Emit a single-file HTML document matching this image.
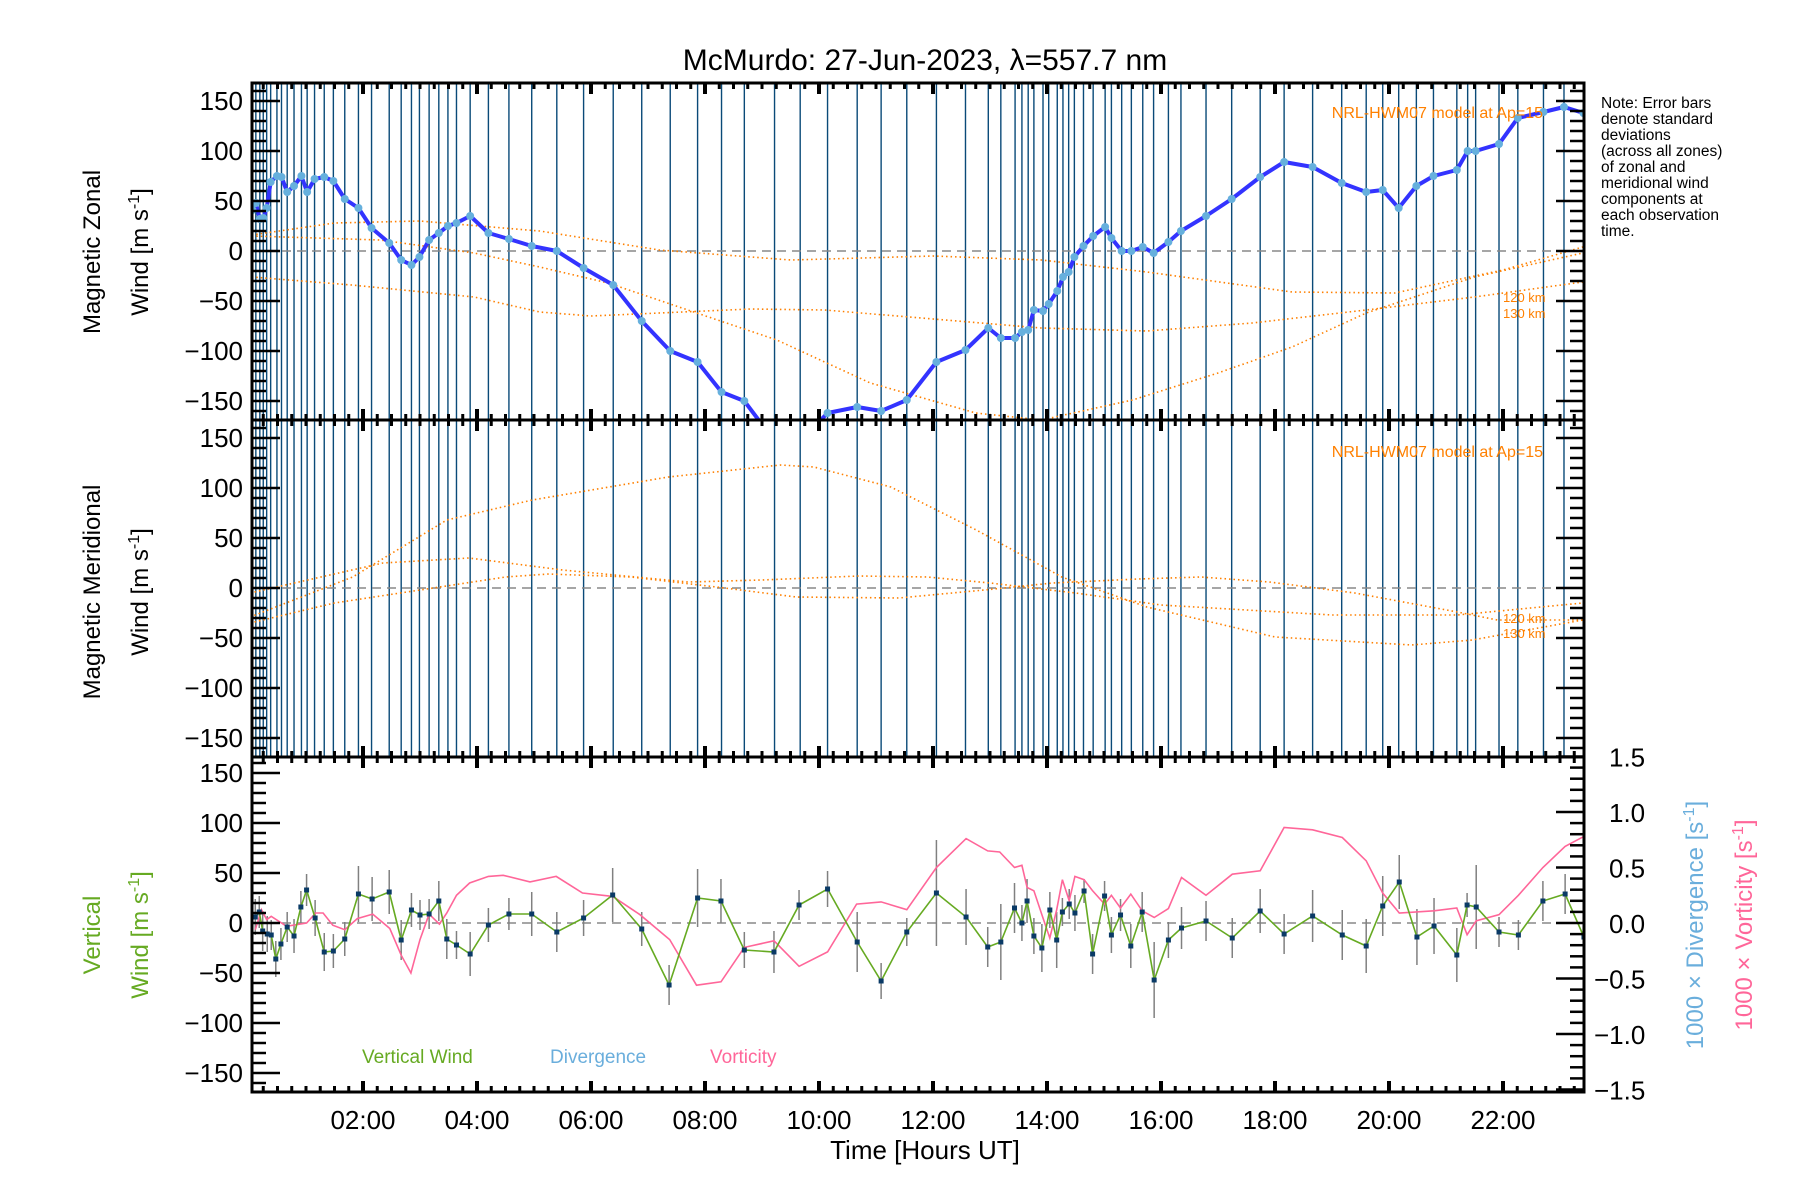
<!DOCTYPE html>
<html><head><meta charset="utf-8"><style>
html,body{margin:0;padding:0;background:#fff;}
svg{display:block;font-family:"Liberation Sans",sans-serif;}
</style></head><body>
<svg id="chart" width="1800" height="1200" viewBox="0 0 1800 1200" xmlns="http://www.w3.org/2000/svg">
<defs>
<clipPath id="clipTop"><rect x="252" y="83" width="1332" height="337"/></clipPath>
<clipPath id="clipMid"><rect x="252" y="420" width="1332" height="337"/></clipPath>
<clipPath id="clipBot"><rect x="252" y="757" width="1332" height="335"/></clipPath>
</defs>
<text x="925" y="70" font-size="30" text-anchor="middle" fill="#000">McMurdo: 27-Jun-2023, λ=557.7 nm</text>
<g id="layer"></g>
<text transform="translate(100,252) rotate(-90)" font-size="24" text-anchor="middle">Magnetic Zonal</text>
<text transform="translate(148,252) rotate(-90)" font-size="24" text-anchor="middle">Wind [m s<tspan dy="-9" font-size="16">-1</tspan><tspan dy="9">]</tspan></text>
<text transform="translate(100,592) rotate(-90)" font-size="24" text-anchor="middle">Magnetic Meridional</text>
<text transform="translate(148,592) rotate(-90)" font-size="24" text-anchor="middle">Wind [m s<tspan dy="-9" font-size="16">-1</tspan><tspan dy="9">]</tspan></text>
<text transform="translate(100,935) rotate(-90)" font-size="24" text-anchor="middle" fill="#66aa22">Vertical</text>
<text transform="translate(148,935) rotate(-90)" font-size="24" text-anchor="middle" fill="#66aa22">Wind [m s<tspan dy="-9" font-size="16">-1</tspan><tspan dy="9">]</tspan></text>
<text transform="translate(1703,925) rotate(-90)" font-size="24" text-anchor="middle" fill="#6aaedc">1000 × Divergence [s<tspan dy="-9" font-size="16">-1</tspan><tspan dy="9">]</tspan></text>
<text transform="translate(1752,925) rotate(-90)" font-size="24" text-anchor="middle" fill="#ff6699">1000 × Vorticity [s<tspan dy="-9" font-size="16">-1</tspan><tspan dy="9">]</tspan></text>
<text x="925" y="1159" font-size="26" text-anchor="middle">Time [Hours UT]</text>
<g font-size="15.5" fill="#000">
<text x="1601" y="108">Note: Error bars</text><text x="1601" y="124">denote standard</text><text x="1601" y="140">deviations</text><text x="1601" y="156">(across all zones)</text><text x="1601" y="172">of zonal and</text><text x="1601" y="188">meridional wind</text><text x="1601" y="204">components at</text><text x="1601" y="220">each observation</text><text x="1601" y="236">time.</text>
</g>
<text x="1543" y="118" font-size="16" text-anchor="end" fill="#ff8000">NRL-HWM07 model at Ap=15</text>
<text x="1543" y="457" font-size="16" text-anchor="end" fill="#ff8000">NRL-HWM07 model at Ap=15</text>
<text x="1503" y="302" font-size="13" fill="#ff8000">120 km</text>
<text x="1503" y="318" font-size="13" fill="#ff8000">130 km</text>
<text x="1503" y="623" font-size="13" fill="#ff8000">120 km</text>
<text x="1503" y="638" font-size="13" fill="#ff8000">130 km</text>
<text x="362" y="1063" font-size="19" fill="#66aa22">Vertical Wind</text>
<text x="550" y="1063" font-size="19" fill="#6aaedc">Divergence</text>
<text x="710" y="1063" font-size="19" fill="#ff6699">Vorticity</text>
</svg>
<script>
const zonalTimes=[0.06,0.12,0.19,0.25,0.31,0.38,0.49,0.57,0.67,0.79,0.92,1.02,1.15,1.32,1.48,1.68,1.92,2.15,2.46,2.67,2.85,2.99,3.16,3.33,3.49,3.64,3.88,4.20,4.56,4.96,5.40,5.87,6.39,6.89,7.39,7.87,8.29,8.69,9.22,9.67,10.15,10.67,11.09,11.54,12.06,12.57,12.97,13.19,13.44,13.56,13.67,13.77,13.93,14.03,14.18,14.28,14.38,14.48,14.64,14.81,15.02,15.13,15.31,15.48,15.68,15.87,16.13,16.35,16.79,17.24,17.74,18.16,18.66,19.17,19.60,19.89,20.17,20.48,20.78,21.19,21.38,21.52,21.93,22.26,22.71,23.07,23.41];
const zonalVals=[41,48,32,33,43,69,75,74,59,65,75,59,72,74,70,52,43,23,8,-9,-14,-6,11,18,25,28,35,18,12,5,0,-17,-34,-70,-100,-111,-141,-150,-190,-190,-162,-156,-160,-149,-111,-99,-77,-87,-87,-81,-79,-59,-60,-53,-40,-26,-21,-6,5,15,24,13,0,0,4,-2,9,20,35,52,74,89,84,68,59,61,43,65,75,81,100,100,107,133,139,144,138];
const windTimes=[0.11,0.18,0.24,0.32,0.39,0.47,0.56,0.67,0.79,0.91,1.01,1.16,1.32,1.48,1.68,1.92,2.16,2.46,2.67,2.85,3.0,3.16,3.33,3.47,3.64,3.88,4.2,4.56,4.96,5.40,5.87,6.38,6.89,7.37,7.87,8.28,8.69,9.21,9.65,10.15,10.67,11.09,11.54,12.06,12.58,12.96,13.19,13.43,13.56,13.65,13.77,13.91,14.05,14.17,14.27,14.39,14.49,14.65,14.80,15.01,15.13,15.29,15.47,15.67,15.88,16.13,16.36,16.79,17.25,17.74,18.16,18.66,19.18,19.60,19.89,20.18,20.49,20.79,21.19,21.37,21.53,21.93,22.27,22.70,23.09,23.42];
const windVals=[6,11,-8,-11,-12,-36,-21,-4,-13,16,33,5,-29,-28,-16,29,24,31,-17,13,8,9,22,-16,-22,-31,-2,9,9,-9,5,28,-6,-62,25,22,-27,-29,18,34,-19,-58,-9,30,6,-24,-19,15,0,22,-13,-25,13,-17,11,19,10,32,-31,27,-12,8,-23,11,-57,-17,-5,2,-15,12,-11,7,-12,-23,17,41,-14,-3,-32,18,16,-9,-12,22,29,-14];
const windErrs=[18,16,20,18,15,18,16,15,17,16,16,18,19,17,17,28,22,22,20,17,15,15,20,20,14,22,17,16,22,20,18,27,17,20,29,22,18,21,15,18,30,18,14,53,28,20,38,25,18,22,18,24,18,28,14,15,18,12,20,15,18,16,22,20,38,18,21,20,20,22,20,26,25,27,30,27,28,28,27,12,42,15,15,20,20,18];
const vortTimes=[0.11,0.22,0.31,0.39,0.66,1.01,1.17,1.30,1.47,1.68,1.90,2.17,2.47,2.67,2.84,3.0,3.16,3.34,3.47,3.64,3.87,4.2,4.46,4.93,5.39,5.85,6.38,6.86,7.38,7.85,8.28,8.69,9.21,9.65,10.15,10.66,11.09,11.54,12.06,12.58,12.96,13.17,13.43,13.56,13.65,13.77,13.91,14.05,14.17,14.27,14.39,14.49,14.65,14.80,15.01,15.13,15.29,15.47,15.67,15.88,16.13,16.36,16.79,17.25,17.74,18.16,18.66,19.18,19.60,19.89,20.18,20.79,21.19,21.37,21.53,21.93,22.27,22.70,23.09,23.42];
const vortVals=[-0.06,0.12,0.03,0.06,-0.03,0.0,0.09,0.09,-0.02,-0.06,0.04,0.08,-0.05,-0.29,-0.45,-0.15,0.08,-0.01,0.09,0.25,0.36,0.42,0.43,0.37,0.42,0.27,0.24,0.075,-0.15,-0.56,-0.53,-0.22,-0.16,-0.39,-0.26,0.17,0.19,0.12,0.50,0.76,0.65,0.64,0.50,0.52,0.32,0.29,0.075,-0.135,0.12,0.39,0.20,0.42,0.39,0.29,0.17,0.25,0.135,0.26,0.11,0.05,0.13,0.41,0.25,0.44,0.47,0.86,0.84,0.77,0.56,0.27,0.09,0.11,0.135,-0.105,0.02,0.075,0.25,0.50,0.69,0.78];
const zonalModelA=[[0.05,16],[1.5,28],[3,30],[5.1,20],[7.2,1],[9.5,-9],[12,-5],[13.9,-9],[15.75,-21],[18.3,-41],[20.1,-42],[22,-19],[23.4,4]];
const zonalModelB=[[0.05,15],[2.3,11],[3.95,-2],[5.1,-16],[6.3,-32],[7.7,-59],[9.26,-89],[10.9,-132],[12.75,-162],[13.9,-169],[15.5,-149],[17.0,-122],[18.3,-96],[19.6,-62],[21.5,-26],[23.4,-2]];
const zonalModelC=[[0.05,-26],[1.8,-34],[3.95,-46],[5.1,-61],[6.0,-65],[8.8,-58],[10.1,-59],[12.0,-68],[13.9,-77],[15.75,-80],[17.6,-72],[19.6,-59],[21.5,-46],[23.4,-31]];
const meridModelA=[[0.02,-29],[1.82,11],[3.47,68],[4.97,88],[7.36,111],[9.32,123],[9.91,121],[11.26,101],[12.76,58],[14.26,11],[15.75,-19],[18.0,-49],[20.4,-57],[21.46,-52],[23.4,-32]];
const meridModelB=[[0.02,-5],[2.35,25],[3.86,30],[5.5,18],[7.7,6],[9.0,8],[10.7,12],[11.9,11],[13.0,5],[14.5,-5],[16.0,-17],[19.0,-27],[21.2,-27],[23.4,-15]];
const meridModelC=[[0.02,-35],[1.5,-15],[3.0,-2],[4.5,11],[5.25,14],[6.7,11],[8.2,1],[9.6,-9],[11.4,-10],[12.9,-2],[14.1,5],[15.6,9],[16.7,11],[17.9,6],[19.4,-5],[21.2,-24],[21.9,-32],[23.4,-32]];
const yTickVals=[150,100,50,0,-50,-100,-150];
const rTickVals=[1.5,1.0,0.5,0.0,-0.5,-1.0,-1.5];
const xTickHours=[2,4,6,8,10,12,14,16,18,20,22];
const xTickLabels=["02:00","04:00","06:00","08:00","10:00","12:00","14:00","16:00","18:00","20:00","22:00"];

const NS='http://www.w3.org/2000/svg';
const L=252,R=1584;
const panels=[{top:83,bot:420,y0:251,clip:'clipTop',name:'zonal'},{top:420,bot:757,y0:588,clip:'clipMid',name:'meridional'},{top:757,bot:1092,y0:923,clip:'clipBot',name:'vertical'}];
function xs(h){return 249+57*h;}
function ys(p,v){return p.y0-v;}
function yr(v){return 923-111*v;}
const layer=document.getElementById('layer');
function mk(tag,attrs,parent){const e=document.createElementNS(NS,tag);for(const k in attrs)e.setAttribute(k,attrs[k]);(parent||layer).appendChild(e);return e;}
function pathFrom(ts,vs,fy){let d='';for(let i=0;i<ts.length;i++){d+=(i?'L':'M')+xs(ts[i]).toFixed(1)+' '+fy(vs[i]).toFixed(1);}return d;}
function modelPath(pts,p){let d='';pts.forEach((q,i)=>{d+=(i?'L':'M')+xs(q[0]).toFixed(1)+' '+ys(p,q[1]).toFixed(1);});return d;}

[0,1].forEach(pi=>{
  const p=panels[pi];
  const g=mk('g',{'clip-path':'url(#'+p.clip+')'});
  
  
  zonalTimes.forEach(t=>{
    const ln=mk('line',{x1:xs(t),x2:xs(t),y1:p.top,y2:p.bot,stroke:'#0a4a78','stroke-width':1.4},g);
    
    
  });
  const z=mk('line',{x1:L,x2:R,y1:p.y0,y2:p.y0,stroke:'#888','stroke-width':1.5,'stroke-dasharray':'9 6'},g);
  
  
  const models=pi===0?[zonalModelA,zonalModelB,zonalModelC]:[meridModelA,meridModelB,meridModelC];
  models.forEach(m=>{
    const e=mk('path',{d:modelPath(m,p),fill:'none',stroke:'#ff8000','stroke-width':1.6,'stroke-dasharray':'1.5 3','stroke-linejoin':'round'},g);
    
    
  });
  if(pi===0){
    const zl=mk('path',{d:pathFrom(zonalTimes,zonalVals,v=>ys(p,v)),fill:'none',stroke:'#3333ff','stroke-width':4,'stroke-linejoin':'round'},g);
    
    
    zonalTimes.forEach((t,i)=>{
      const c=mk('circle',{cx:xs(t),cy:ys(p,zonalVals[i]),r:4,fill:'#66b0dd'},g);
      
      
    });
  }
});

(function(){
  const p=panels[2];
  const g=mk('g',{'clip-path':'url(#clipBot)'});
  
  
  const z=mk('line',{x1:L,x2:R,y1:p.y0,y2:p.y0,stroke:'#888','stroke-width':1.5,'stroke-dasharray':'9 6'},g);
  
  
  windTimes.forEach((t,i)=>{
    const e=mk('line',{x1:xs(t),x2:xs(t),y1:ys(p,windVals[i]+windErrs[i]),y2:ys(p,windVals[i]-windErrs[i]),stroke:'#808080','stroke-width':1.5},g);
    
    
  });
  const vl=mk('path',{d:pathFrom(vortTimes,vortVals,yr),fill:'none',stroke:'#ff6699','stroke-width':1.6},g);
  
  
  const wl=mk('path',{d:pathFrom(windTimes,windVals,v=>ys(p,v)),fill:'none',stroke:'#66aa22','stroke-width':1.6},g);
  
  
  windTimes.forEach((t,i)=>{
    const r=mk('rect',{x:xs(t)-2.5,y:ys(p,windVals[i])-2.5,width:5,height:5,fill:'#0a3a66'},g);
    
    
  });
})();

panels.forEach((p,pi)=>{
  const fr=mk('rect',{x:L,y:p.top,width:R-L,height:p.bot-p.top,fill:'none',stroke:'#000','stroke-width':3});
  
  
  for(let v=-160;v<=160;v+=10){
    const y=ys(p,v); if(y<p.top+1||y>p.bot-1)continue;
    const major=v%50===0;const len=major?28:14;
    const t1=mk('line',{x1:L,x2:L+len,y1:y,y2:y,stroke:'#000','stroke-width':2.5});
    
    
    if(pi<2){
      const t2=mk('line',{x1:R,x2:R-len,y1:y,y2:y,stroke:'#000','stroke-width':2.5});
      
      
    }
  }
  yTickVals.forEach(v=>{
    const t=mk('text',{x:243,y:ys(p,v)+9,'font-size':26,'text-anchor':'end'});
    t.textContent=(v<0?'\u2212'+(-v):String(v));
    
    
  });
  for(let q=0;q<=94;q++){
    const h=q*0.25;const x=xs(h);if(x<L+2||x>R-2)continue;
    const major=q%8===0;const len=major?11:6;
    [p.top,p.bot].forEach((yy,j)=>{
      const tk=mk('line',{x1:x,x2:x,y1:yy,y2:j===0?yy+len:yy-len,stroke:'#000','stroke-width':major?4:3});
      
      
    });
  }
});
for(let k=-15;k<=15;k++){
  const v=k/10;const y=yr(v);
  const major=k%5===0;const len=major?28:14;
  const t=mk('line',{x1:R,x2:R-len,y1:y,y2:y,stroke:'#000','stroke-width':2.5});
  
  
}
rTickVals.forEach(v=>{
  const t=mk('text',{x:v<0?1594:1609,y:yr(v)+10,'font-size':26});
  t.textContent=(v<0?'\u2212':'')+Math.abs(v).toFixed(1);
  
  
});
xTickHours.forEach((h,i)=>{
  const t=mk('text',{x:xs(h),y:1129,'font-size':26,'text-anchor':'middle'});
  t.textContent=xTickLabels[i];
  
  
});
</script>
</body></html>
